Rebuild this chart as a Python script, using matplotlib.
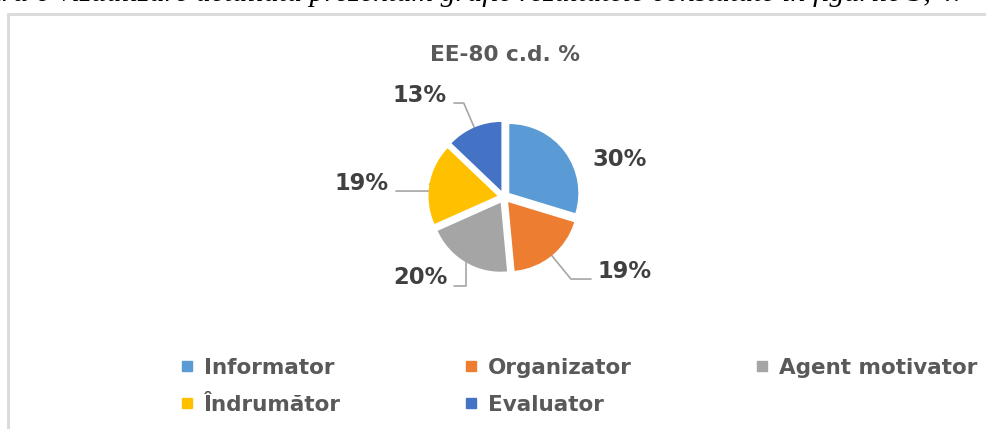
import matplotlib
matplotlib.use("Agg")
import matplotlib.pyplot as plt
from matplotlib.lines import Line2D
from matplotlib.patches import Rectangle
import numpy as np

# date
roluri = ['Informator', 'Organizator', 'Agent motivator', 'Îndrumător', 'Evaluator']
procente = [30, 19, 20, 19, 13]
culori = ['#5B9BD5', '#ED7D31', '#A5A5A5', '#FFC000', '#4472C4']
titlu = "EE-80 c.d. %"

# pozitii etichete (pixeli, fata de centrul graficului)
eticheta_dx = [116, 121, -84, -142, -84]
eticheta_dy = [37, -74, -81, 14, 102]
cu_linie = [False, True, True, True, True]
unghi_linie = [None, None, -90, None, None]   # None = directia feliei

plt.rcParams['font.family'] = ['DejaVu Sans']

W, H = 986, 429
fig = plt.figure(figsize=(W / 100, H / 100), dpi=100)
ax = fig.add_axes([0, 0, 1, 1])

cx, cy, R = 504, H - 197, 69
wedges, _ = ax.pie(procente, colors=culori, startangle=90, counterclock=False,
                   center=(cx, cy), radius=R, explode=[6.6] * 5,
                   wedgeprops=dict(zorder=3))
ax.set_xlim(0, W)
ax.set_ylim(0, H)
ax.set_aspect('auto')
ax.axis('off')

for i, w in enumerate(wedges):
    mid = np.deg2rad((w.theta1 + w.theta2) / 2)
    ex, ey = w.center
    px = ex + R * np.cos(mid)
    py = ey + R * np.sin(mid)
    tx = cx + eticheta_dx[i]
    ty = cy + eticheta_dy[i]
    txt = f"{procente[i]}%"
    if cu_linie[i]:
        rel = (0, 0.15) if eticheta_dx[i] > 0 else (1, 0.15)
        ub = unghi_linie[i] if unghi_linie[i] is not None else np.rad2deg(mid)
        ax.annotate(txt, xy=(px, py), xytext=(tx, ty), ha='center', va='center',
                    fontsize=16.3, fontweight='bold', color='#404040', zorder=2,
                    arrowprops=dict(arrowstyle='-', color='#A6A6A6', lw=1.2,
                                    relpos=rel, shrinkA=3, shrinkB=0, zorder=2,
                                    connectionstyle=f"angle,angleA=0,angleB={ub:.1f},rad=0"))
    else:
        ax.text(tx, ty, txt, ha='center', va='center', fontsize=16.3,
                fontweight='bold', color='#404040')

ax.text(cx + 1, H - 55, titlu, ha='center', va='center', fontsize=15.6,
        fontweight='bold', color='#595959')

# chenarul graficului
fig.patches.append(Rectangle((8, -10), W + 20, H - 14 + 10, transform=None,
                             fill=False, edgecolor='#D9D9D9', lw=2))

# text din document (taiat sus)
fig.text(961, H - 1, "Pentru o vizualizare detaliată prezentăm grafic rezultatele constatate în figurile 3, 4.",
         transform=None, fontsize=21.5, style='italic', family='Liberation Serif',
         va='baseline', ha='right', color='black')

handles = [Line2D([], [], marker='s', linestyle='', markersize=7.2,
                  markerfacecolor=c, markeredgecolor=c) for c in culori]
ordine = [0, 3, 1, 4, 2]
leg = fig.legend([handles[k] for k in ordine], [roluri[k] for k in ordine],
                 ncol=3, loc='upper left', bbox_to_anchor=(181.6 / W, 1 - 358 / H),
                 frameon=False, prop={'size': 15.5, 'weight': 'bold'},
                 handlelength=0.5, handletextpad=0.54,
                 columnspacing=5.8, labelspacing=0.79, borderpad=0, borderaxespad=0)
for t in leg.get_texts():
    t.set_color('#595959')

fig.savefig("out.png", dpi=100)
